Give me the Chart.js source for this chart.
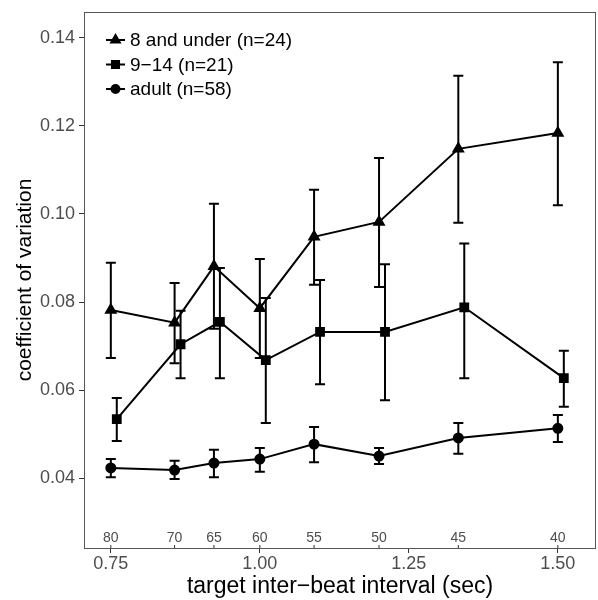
<!DOCTYPE html>
<html>
<head>
<meta charset="utf-8">
<script src="https://cdn.jsdelivr.net/npm/chart.js@4/dist/chart.umd.min.js"></script>
<style>
  body { margin: 0; background: #fff; }
  #wrap { width: 598px; height: 600px; }
</style>
</head>
<body>
<div id="wrap"><canvas id="cv"></canvas></div>
<script>
// target inter-beat interval (sec) and the matching tempo (bpm)
const intervals = [0.75, 0.857, 0.923, 1.0, 1.091, 1.2, 1.333, 1.5];
const bpmLabels = ['80', '70', '65', '60', '55', '50', '45', '40'];

// 8 and under
const under8Mean = [0.0782, 0.0753, 0.0881, 0.0786, 0.0948, 0.0982, 0.1148, 0.1184];
const under8Lo   = [0.0673, 0.0661, 0.0739, 0.0673, 0.0839, 0.0834, 0.0980, 0.1020];
const under8Hi   = [0.0889, 0.0843, 0.1023, 0.0898, 0.1055, 0.1127, 0.1314, 0.1345];

// 9-14
const kidsMean = [0.0534, 0.0704, 0.0755, 0.0668, 0.0732, 0.0732, 0.0788, 0.0627];
const kidsLo   = [0.0484, 0.0627, 0.0627, 0.0525, 0.0613, 0.0577, 0.0627, 0.0562];
const kidsHi   = [0.0582, 0.0780, 0.0877, 0.0809, 0.0850, 0.0886, 0.0933, 0.0689];

// adult
const adultMean = [0.0423, 0.0418, 0.0434, 0.0443, 0.0477, 0.0450, 0.0491, 0.0513];
const adultLo   = [0.0402, 0.0398, 0.0402, 0.0414, 0.0436, 0.0432, 0.0455, 0.0482];
const adultHi   = [0.0443, 0.0439, 0.0464, 0.0468, 0.0516, 0.0468, 0.0525, 0.0543];

const xTicks = [0.75, 1.00, 1.25, 1.50];
const yTicks = [0.04, 0.06, 0.08, 0.10, 0.12, 0.14];

const FONT = "'Liberation Sans', Arial, Helvetica, sans-serif";
const GREY = '#4d4d4d';

const makeSet = (label, mean, lo, hi, style, dodge) => ({
    label: label,
    data: mean.map((v, i) => ({ x: intervals[i] + dodge, y: v })),
    lo: lo,
    hi: hi,
    dodge: dodge,
    borderColor: '#000',
    backgroundColor: '#000',
    borderWidth: 2,
    pointStyle: style,
    pointRadius: style === 'circle' ? 4.5 : 5.5,
    pointHoverRadius: 5,
    tension: 0
});

// error bars
const errorBars = {
    id: 'errorBars',
    beforeDatasetsDraw(chart) {
        const ctx = chart.ctx;
        const xs = chart.scales.x, ys = chart.scales.y;
        ctx.save();
        ctx.strokeStyle = '#000';
        ctx.lineWidth = 2;
        chart.data.datasets.forEach(ds => {
            ds.lo.forEach((lo, i) => {
                const x = xs.getPixelForValue(intervals[i] + ds.dodge);
                const y1 = ys.getPixelForValue(lo);
                const y2 = ys.getPixelForValue(ds.hi[i]);
                ctx.beginPath();
                ctx.moveTo(x, y1); ctx.lineTo(x, y2);
                ctx.moveTo(x - 5, y1); ctx.lineTo(x + 5, y1);
                ctx.moveTo(x - 5, y2); ctx.lineTo(x + 5, y2);
                ctx.stroke();
            });
        });
        ctx.restore();
    }
};

// panel border, bpm labels and legend
const extras = {
    id: 'extras',
    afterDraw(chart) {
        const ctx = chart.ctx;
        const a = chart.chartArea;
        const xs = chart.scales.x;
        ctx.save();
        ctx.strokeStyle = '#555';
        ctx.lineWidth = 1;
        ctx.strokeRect(a.left + 0.5, a.top + 0.5, a.right - a.left - 1, a.bottom - a.top);

        // tempo labels along the bottom
        ctx.font = '14px ' + FONT;
        ctx.fillStyle = GREY;
        ctx.textAlign = 'center';
        ctx.textBaseline = 'middle';
        ctx.strokeStyle = '#333';
        intervals.forEach((v, i) => {
            const x = xs.getPixelForValue(v);
            ctx.fillText(bpmLabels[i], x, a.bottom - 10);
            ctx.beginPath();
            ctx.moveTo(x, a.bottom);
            ctx.lineTo(x, a.bottom - 3);
            ctx.stroke();
        });

        // legend
        ctx.font = '19px ' + FONT;
        ctx.fillStyle = '#000';
        ctx.textAlign = 'left';
        chart.data.datasets.forEach((ds, i) => {
            const y = a.top + 28 + i * 24.5;
            const x0 = a.left + 22;
            ctx.strokeStyle = '#000';
            ctx.lineWidth = 2;
            ctx.beginPath();
            ctx.moveTo(x0, y); ctx.lineTo(x0 + 19, y);
            ctx.stroke();
            Chart.helpers.drawPoint(ctx, {
                pointStyle: ds.pointStyle,
                radius: ds.pointRadius - 0.5,
                borderWidth: 1,
                rotation: 0
            }, x0 + 9.5, y);
            ctx.fillText(ds.label, x0 + 24, y + 1);
        });
        ctx.restore();
    }
};

const noPad = s => { s.paddingLeft = 0; s.paddingRight = 0; s.paddingTop = 0; s.paddingBottom = 0; };

new Chart(document.getElementById('cv'), {
    type: 'line',
    data: {
        datasets: [
            makeSet('8 and under (n=24)', under8Mean, under8Lo, under8Hi, 'triangle', 0),
            makeSet('9\u221214 (n=21)', kidsMean, kidsLo, kidsHi, 'rect', 0.01),
            makeSet('adult (n=58)', adultMean, adultLo, adultHi, 'circle', 0)
        ]
    },
    options: {
        responsive: true,
        maintainAspectRatio: false,
        animation: false,
        layout: { autoPadding: false, padding: { top: 12, right: 2, left: 0, bottom: 0 } },
        plugins: {
            legend: { display: false },
            tooltip: { enabled: false }
        },
        scales: {
            x: {
                type: 'linear',
                min: 0.705,
                max: 1.564,
                afterBuildTicks: s => { s.ticks = xTicks.map(v => ({ value: v })); },
                afterFit: s => { s.height = 52; noPad(s); },
                ticks: {
                    callback: v => v.toFixed(2),
                    font: { family: FONT, size: 18 },
                    color: GREY,
                    padding: 0,
                    maxRotation: 0
                },
                grid: { drawOnChartArea: false, drawTicks: true, tickLength: 5, color: '#333' },
                border: { display: false },
                title: {
                    display: true,
                    text: 'target inter\u2212beat interval (sec)',
                    font: { family: FONT, size: 23 },
                    color: '#000',
                    padding: { top: 0, bottom: 0 }
                }
            },
            y: {
                type: 'linear',
                min: 0.0241,
                max: 0.1459,
                afterBuildTicks: s => { s.ticks = yTicks.map(v => ({ value: v })); },
                afterFit: s => { s.width = 84; noPad(s); },
                ticks: {
                    callback: v => v.toFixed(2),
                    font: { family: FONT, size: 18 },
                    color: GREY,
                    padding: 4
                },
                grid: { drawOnChartArea: false, drawTicks: true, tickLength: 5, color: '#333' },
                border: { display: false },
                title: {
                    display: true,
                    text: 'coefficient of variation',
                    font: { family: FONT, size: 21 },
                    color: '#000',
                    padding: { top: 13, bottom: 0 }
                }
            }
        }
    },
    plugins: [errorBars, extras]
});
</script>
</body>
</html>
